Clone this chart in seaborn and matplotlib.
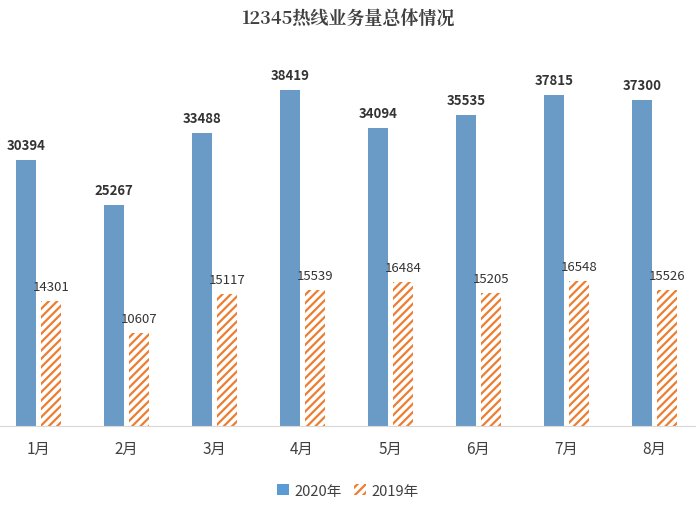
import pandas as pd
import seaborn as sns
import matplotlib.pyplot as plt
from matplotlib.patches import Patch

plt.rcParams['font.family'] = 'Noto Sans CJK SC'
plt.rcParams['hatch.linewidth'] = 1.6

months = ['1月', '2月', '3月', '4月', '5月', '6月', '7月', '8月']
vals_2020 = [30394, 25267, 33488, 38419, 34094, 35535, 37815, 37300]
vals_2019 = [14301, 10607, 15117, 15539, 16484, 15205, 16548, 15526]

blue = '#5B9BD5'
orange = '#ED7D31'

df = pd.DataFrame({
    'month': months * 2,
    'value': vals_2020 + vals_2019,
    'year': ['2020年'] * 8 + ['2019年'] * 8,
})

fig = plt.figure(figsize=(6.96, 5.06), dpi=100)
ax = fig.add_axes([0, 0.156, 1, 0.692])
sns.barplot(data=df, x='month', y='value', hue='year', palette=[blue, orange],
            width=0.6, ax=ax, legend=False)

bw = 0.23
offsets = {'2020年': -0.135, '2019年': 0.145}
for p in ax.patches:
    if p.get_height() == 0:
        continue
    cx = p.get_x() + p.get_width() / 2
    i = round(cx)
    is2020 = cx < i
    off = offsets['2020年'] if is2020 else offsets['2019年']
    p.set_x(i + off - bw / 2)
    p.set_width(bw)
    h = p.get_height()
    if is2020:
        ax.text(i + off, h + 900, str(int(h)), ha='center', va='bottom',
                fontsize=9.5, fontweight='bold', color='#333333')
    else:
        p.set_facecolor('white')
        p.set_edgecolor(orange)
        p.set_hatch('////')
        p.set_linewidth(0)
        ax.text(i + off, h + 900, str(int(h)), ha='center', va='bottom',
                fontsize=9.5, color='#333333')

ax.set_xlim(-0.432, 7.477)
ax.set_ylim(0, 40000)
ax.set_yticks([])
ax.set_xlabel('')
ax.set_ylabel('')
for s in ['top', 'right', 'left']:
    ax.spines[s].set_visible(False)
ax.spines['bottom'].set_color('#D9D9D9')
ax.tick_params(axis='x', length=0, pad=10, labelsize=11, labelcolor='#404040')

fig.text(0.5, 0.963, '12345热线业务量总体情况', ha='center', va='center',
         fontsize=13, fontweight='bold', color='#404040', family='Noto Serif CJK SC')

handles = [Patch(facecolor=blue, label='2020年'),
           Patch(facecolor='white', edgecolor=orange, hatch='////', linewidth=0, label='2019年')]
fig.legend(handles=handles, loc='center', bbox_to_anchor=(0.5, 0.028), ncol=2,
           frameon=False, fontsize=10.5, handlelength=0.8, handleheight=0.8,
           columnspacing=0.8, handletextpad=0.4, labelcolor='#404040')

fig.savefig('out.png', dpi=100)
